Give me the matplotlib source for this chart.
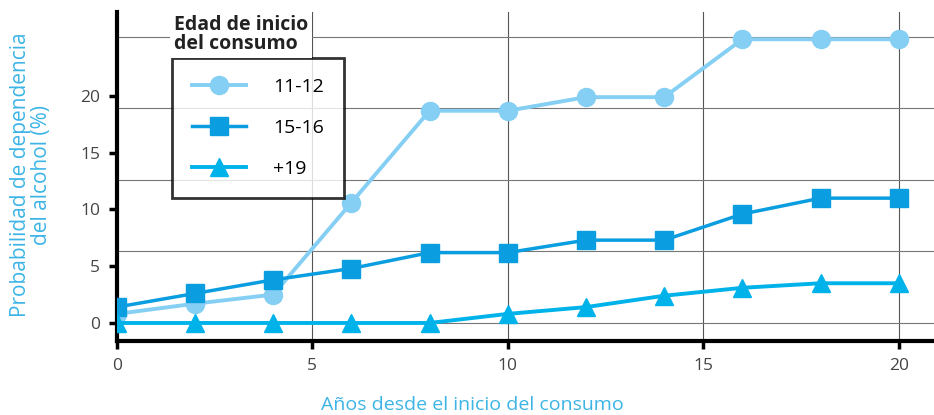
import numpy as np
import matplotlib.pyplot as plt
from matplotlib.lines import Line2D

plt.rcParams['font.family'] = ['Open Sans', 'DejaVu Sans']

# data
years = [0, 2, 4, 6, 8, 10, 12, 14, 16, 18, 20]
edad_11_12 = [0.8, 1.7, 2.5, 10.6, 18.7, 18.7, 19.9, 19.9, 25.0, 25.0, 25.0]
edad_15_16 = [1.4, 2.6, 3.8, 4.8, 6.2, 6.2, 7.3, 7.3, 9.6, 11.0, 11.0]
edad_19 = [0.0, 0.0, 0.0, 0.0, 0.0, 0.8, 1.4, 2.4, 3.1, 3.5, 3.5]
labels = ['11-12', '15-16', '+19']
xticks = [0, 5, 10, 15, 20]
yticks = [0, 5, 10, 15, 20]
ygrid = [0, 6.3, 12.6, 18.9, 25.2]

c1 = '#84cff3'
c2 = '#0a9ee0'
c3 = '#00b2ea'
label_col = '#3cb4e6'

fig = plt.figure(figsize=(9.34, 4.15), dpi=100)
ax = fig.add_axes([0.125, 0.178, 0.875, 0.793])

for gx in xticks[1:]:
    ax.axvline(gx, color='#555555', lw=0.8, zorder=1)
for gy in ygrid:
    ax.axhline(gy, color='#777777', lw=0.8, zorder=1)

ax.plot(years, edad_11_12, color=c1, lw=2.8, marker='o', ms=13, zorder=3)
ax.plot(years, edad_15_16, color=c2, lw=2.5, marker='s', ms=13, zorder=4)
ax.plot(years, edad_19, color=c3, lw=2.8, marker='^', ms=13, zorder=5)

ax.set_xlim(0, 20.9)
ax.set_ylim(-1.6, 27.4)
ax.set_xticks(xticks)
ax.set_yticks(yticks)
ax.tick_params(direction='out', length=6, width=2.5, color='black',
               labelsize=12.5, labelcolor='#444444', pad=6)
for s in ['top', 'right']:
    ax.spines[s].set_visible(False)
ax.spines['left'].set_linewidth(3)
ax.spines['bottom'].set_linewidth(3)

fig.text(472 / 934, 1 - 405 / 415, 'Años desde el inicio del consumo', color=label_col,
         fontsize=14, ha='center', va='center')
fig.text(31 / 934, 1 - 175 / 415, 'Probabilidad de dependencia\ndel alcohol (%)',
         color=label_col, fontsize=15, ha='center', va='center', rotation=90,
         linespacing=1.0)

handles = [Line2D([], [], color=c1, lw=2.8, marker='o', ms=13),
           Line2D([], [], color=c2, lw=2.5, marker='s', ms=13),
           Line2D([], [], color=c3, lw=2.8, marker='^', ms=13)]
leg = ax.legend(handles, labels, loc='upper left', bbox_to_anchor=(0.068, 0.86),
                fontsize=14, frameon=True, fancybox=False, handlelength=2.8,
                labelspacing=1.2, borderpad=1.0, handletextpad=1.4,
                borderaxespad=0)
leg.get_frame().set_edgecolor('black')
leg.get_frame().set_linewidth(2)
leg.set_zorder(10)

ax.text(0.07, 0.99, 'Edad de inicio\ndel consumo', transform=ax.transAxes,
        fontsize=14, fontweight='bold', va='top', ha='left', linespacing=0.9,
        color='#222222', zorder=11,
        bbox=dict(facecolor='white', edgecolor='none', pad=3))

fig.savefig('out.png', dpi=100)
